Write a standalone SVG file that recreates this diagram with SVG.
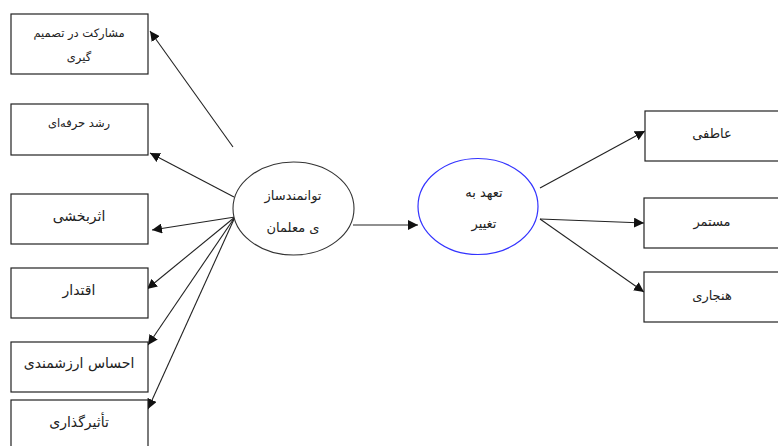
<svg xmlns="http://www.w3.org/2000/svg" width="778" height="446" viewBox="0 0 778 446">
<style>
.box{fill:#fff;stroke:#222;stroke-width:1.2}
.ell{fill:#fff;stroke:#333;stroke-width:1.1}
.ellb{fill:#fff;stroke:#3333ff;stroke-width:1.2}
.t{font-family:"DejaVu Sans","Noto Sans",sans-serif;font-size:11.5px;fill:#222;text-anchor:middle;direction:rtl}
.tm{font-family:"DejaVu Sans","Noto Sans",sans-serif;font-size:14px;fill:#222;text-anchor:middle;direction:rtl}
.tr{font-family:"DejaVu Sans","Noto Sans",sans-serif;font-size:13px;fill:#222;text-anchor:middle;direction:rtl}
.tl{font-family:"DejaVu Sans","Noto Sans",sans-serif;font-size:13px;fill:#222;text-anchor:middle;direction:rtl}
.c{stroke:#222;stroke-width:1.1;fill:none;marker-end:url(#ah)}
</style>
<defs>
<marker id="ah" viewBox="0 0 10 10" refX="10" refY="5" markerWidth="10" markerHeight="10" markerUnits="userSpaceOnUse" orient="auto">
<path d="M0,0 L10,5 L0,10 z" fill="#111"/>
</marker>
</defs>
<rect width="778" height="446" fill="#fff"/>
<g id="connectors">
<line class="c" x1="233" y1="147" x2="150" y2="31"/>
<line class="c" x1="234" y1="197" x2="150" y2="153"/>
<line class="c" x1="235" y1="217" x2="152" y2="230"/>
<line class="c" x1="235" y1="217" x2="147" y2="289"/>
<line class="c" x1="235" y1="217" x2="148" y2="345"/>
<line class="c" x1="235" y1="217" x2="148" y2="409"/>
<line class="c" x1="353" y1="225" x2="418" y2="225"/>
<line class="c" x1="540" y1="188" x2="645" y2="131"/>
<line class="c" x1="540" y1="219" x2="644" y2="223"/>
<line class="c" x1="540" y1="219" x2="644" y2="292"/>
</g>
<g id="n1"><rect class="box" x="11" y="14" width="137" height="60"/><text class="t" x="79" y="37">مشارکت در تصمیم</text><text class="t" x="79" y="61">گیری</text></g>
<g id="n2"><rect class="box" x="11" y="104" width="137" height="51"/><text class="t" x="79" y="127">رشد حرفه‌ای</text></g>
<g id="n3"><rect class="box" x="11" y="194" width="137" height="50"/><text class="tm" x="79" y="221">اثربخشی</text></g>
<g id="n4"><rect class="box" x="11" y="268" width="137" height="50"/><text class="tm" x="79" y="295">اقتدار</text></g>
<g id="n5"><rect class="box" x="11" y="342" width="137" height="50"/><text class="tm" x="79" y="368">احساس ارزشمندی</text></g>
<g id="n6"><rect class="box" x="11" y="400" width="137" height="60"/><text class="tm" x="79" y="427">تأثیرگذاری</text></g>
<g id="e1"><ellipse class="ell" cx="293.5" cy="208.5" rx="60.5" ry="46.5"/><text class="tl" x="293" y="200">توانمندساز</text><text class="tl" x="293" y="232">ی معلمان</text></g>
<g id="e2"><ellipse class="ellb" cx="478" cy="206.5" rx="60" ry="48"/><text class="tl" x="484" y="197">تعهد به</text><text class="tl" x="484" y="228">تغییر</text></g>
<g id="r1"><rect class="box" x="645" y="111" width="145" height="50"/><text class="tr" x="712" y="138">عاطفی</text></g>
<g id="r2"><rect class="box" x="644" y="198" width="146" height="50"/><text class="tr" x="712" y="226">مستمر</text></g>
<g id="r3"><rect class="box" x="644" y="272" width="146" height="50"/><text class="tr" x="712" y="300">هنجاری</text></g>
</svg>
